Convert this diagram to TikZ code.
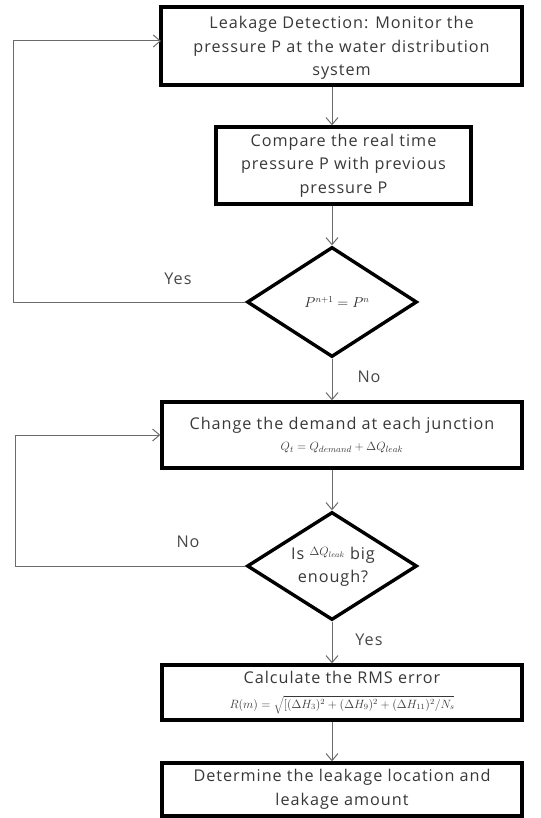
\documentclass[tikz,border=0pt]{standalone}
\usepackage{fontspec}
\setmainfont{Open Sans}[LetterSpace=6]
\usetikzlibrary{shapes.geometric,arrows.meta}
\begin{document}
\begin{tikzpicture}[x=1pt,y=-1pt,
  box/.style={draw=black,line width=3.4pt,align=center,inner sep=0pt,text=black!78,font=\fontsize{16.2}{23.5}\selectfont},
  dia/.style={draw=black,diamond,line width=3.4pt,inner sep=0pt},
  conn/.style={draw=black!58,line width=1pt,-{Straight Barb[length=7pt,width=12pt,line width=1pt]}},
  lbl/.style={text=black!72,font=\fontsize{16.2}{18}\selectfont,inner sep=0pt},
]
\useasboundingbox (0,0) rectangle (540,818);
\node[box,minimum width=361,minimum height=78,text depth=-2pt] (b1) at (341.5,46) {Leakage Detection: Monitor the\\pressure P at the water distribution\\system};
\node[box,minimum width=255,minimum height=77] (b2) at (343.5,165.5) {Compare the real time\\pressure P with previous\\pressure P};
\node[dia,minimum width=170,minimum height=110] (d1) at (332,302) {};
\node[inner sep=0pt,text=black!85,font=\fontsize{13.5}{15}\selectfont] (t1) at (337,302) {$P^{n+1}=P^{n}$};
\node[box,minimum width=360,minimum height=66] (b3) at (342,435) {Change the demand at each junction\\[-3pt]{\fontsize{13}{14}\selectfont$Q_t=Q_{demand}+\Delta Q_{leak}$}};
\node[dia,minimum width=170,minimum height=108] (d2) at (332,566) {};
\node[box,draw=none,align=center] (t2) at (333,567) {Is \raisebox{4pt}{\fontsize{11.5}{13}\selectfont$\Delta Q_{leak}$} big\\enough?};
\node[box,minimum width=360,minimum height=55] (b4) at (342,692.5) {Calculate the RMS error\\[1pt]{\fontsize{11.5}{12}\selectfont$R(m)=\sqrt{[(\Delta H_3)^2+(\Delta H_9)^2+(\Delta H_{11})^2/N_s}$}};
\node[box,minimum width=360,minimum height=53] (b5) at (342,789.5) {Determine the leakage location and\\leakage amount};
\coordinate (c1a) at (13,302);
\coordinate (c1b) at (13,41);
\coordinate (c1c) at (161,41);
\coordinate (c2a) at (15,566);
\coordinate (c2b) at (15,435);
\node[lbl] (yes1) at (178,279) {Yes};
\node[lbl] (no1) at (369,377) {No};
\node[lbl] (no2) at (188,542) {No};
\node[lbl] (yes2) at (369,640) {Yes};
\draw[conn] (b1.south -| d1.north) -- (b2.north -| d1.north);
\draw[conn] (b2.south -| d1.north) -- (d1.north);
\draw[conn] (d1.south) -- (b3.north -| d1.south);
\draw[conn] (b3.south -| d2.north) -- (d2.north);
\draw[conn] (d2.south) -- (b4.north -| d2.south);
\draw[conn] (b4.south -| d2.north) -- (b5.north -| d2.north);
\draw[conn] (d1.west) -- (c1a) -- (c1b) -- (c1c);
\draw[conn] (d2.west) -- (c2a) -- (c2b) -- (b3.west);
\end{tikzpicture}
\end{document}
